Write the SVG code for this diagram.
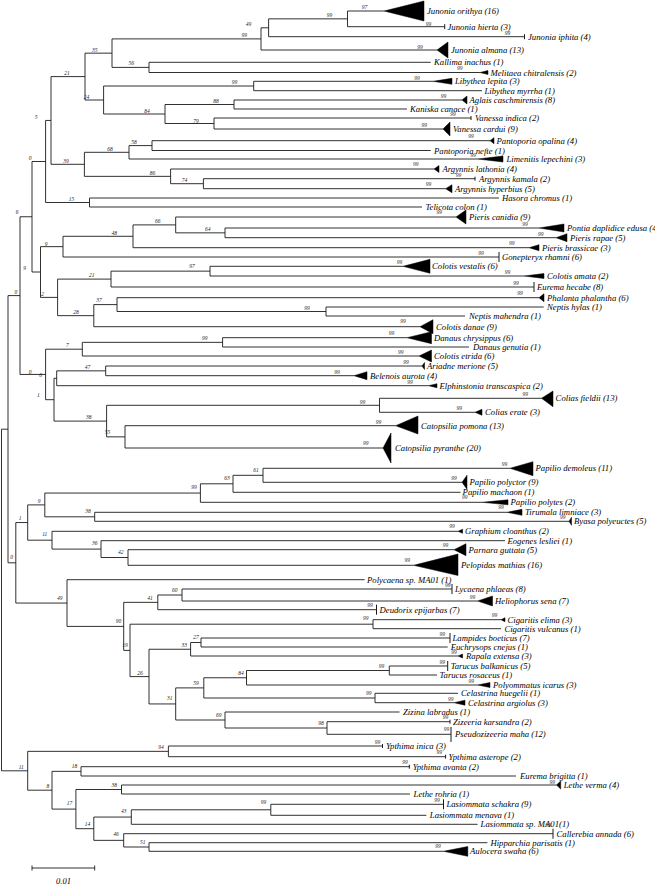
<svg xmlns="http://www.w3.org/2000/svg" width="655" height="887" viewBox="0 0 655 887">
<style>
.e{fill:none;stroke:#1a1a1a;stroke-width:0.9}
.tk{fill:none;stroke:#1a1a1a;stroke-width:1}
.tr{fill:#000;stroke:#000;stroke-width:0.5}
.lb{font-family:"Liberation Serif",serif;font-style:italic;font-size:8.7px;fill:#000}
.bs{font-family:"Liberation Serif",serif;font-style:italic;font-size:5.5px;fill:#222;text-anchor:middle}
.sc{font-family:"Liberation Serif",serif;font-style:italic;font-size:8.5px;fill:#000;text-anchor:middle}
</style>
<rect width="655" height="887" fill="#fff"/>
<g id="connectors" class="e">
<path d="M384 11H347.5V26.7H444.7"/>
<path d="M347.5 18.85H268.6V36.7H524.5"/>
<path d="M268.6 27.8H261V50H437"/>
<path d="M430.7 62.3H149V72.5H480"/>
<path d="M261 38.9H112V67.4H149"/>
<path d="M433 81.3H253.7V90.7H482"/>
<path d="M462 100H234V109H407"/>
<path d="M471 118H214V129H443"/>
<path d="M234 104.5H165V123.5H214"/>
<path d="M253.7 86H103.6V114H165"/>
<path d="M112 53.15H85V100H103.6"/>
<path d="M490 140.7H152V150.5H430.7"/>
<path d="M152 145.6H129V159H477.6"/>
<path d="M475 178.7H203.4V188.7H445.6"/>
<path d="M434 169H170.6V183.7H203.4"/>
<path d="M129 152.3H84.4V176.35H170.6"/>
<path d="M85 76.6H51V164.3H84.4"/>
<path d="M499 198H89.5V207H422"/>
<path d="M51 120.45H45.6V202.5H89.5"/>
<path d="M539 228H225V237.7H556"/>
<path d="M456 217H175.7V232.85H225"/>
<path d="M175.7 224.9H133V247.7H529"/>
<path d="M133 236.3H63V257H499"/>
<path d="M403 266.3H210V276H524"/>
<path d="M210 271.15H111V287H534"/>
<path d="M543.7 307H326V316H465"/>
<path d="M539 297.7H117V311.5H326"/>
<path d="M117 304.6H93.8V326.7H420"/>
<path d="M111 279.1H57.6V315.65H93.8"/>
<path d="M63 246.65H40.5V297.4H57.6"/>
<path d="M45.6 161.5H32V272H40.5"/>
<path d="M407 337.7H222.6V347H469"/>
<path d="M222.6 342.35H82.3V356H419"/>
<path d="M422 366H105.7V375.7H354"/>
<path d="M105.7 370.85H56.7V385.7H428.5"/>
<path d="M541.5 398.3H379.5V412.3H475"/>
<path d="M395.7 425.7H125V448H383"/>
<path d="M379.5 405.3H106.6V436.85H125"/>
<path d="M56.7 378.3H54V421.1H106.6"/>
<path d="M82.3 349.2H45.6V399.7H54"/>
<path d="M32 216.75H20V374.45H45.6"/>
<path d="M510 468.3H263V482.3H462"/>
<path d="M263 475.3H233V492.3H460.5"/>
<path d="M233 483.8H200.4V502.3H482"/>
<path d="M507 512.3H94.7V521.3H569"/>
<path d="M200.4 493.05H44.8V516.8H94.7"/>
<path d="M454 549.7H128V565.3H413.6"/>
<path d="M505 540.7H101V557.5H128"/>
<path d="M458 531.3H52V549.1H101"/>
<path d="M44.8 504.9H27.7V540.2H52"/>
<path d="M452 589H182V601H477.6"/>
<path d="M182 595H157.8V609.7H376.5"/>
<path d="M501 619.7H373V628.7H501"/>
<path d="M450 638H201V647H447.7"/>
<path d="M201 642.5H190.6V656H458"/>
<path d="M447.7 666H389.3V675H437"/>
<path d="M389.3 670.5H246.5V685H477.6"/>
<path d="M458 693.3H375V702.7H454"/>
<path d="M246.5 677.75H203.8V698H375"/>
<path d="M450 721.7H327V734.3H451"/>
<path d="M399.5 712H225V728H327"/>
<path d="M203.8 687.9H175.7V720H225"/>
<path d="M190.6 649.25H149V703.95H175.7"/>
<path d="M373 624.2H130V676.6H149"/>
<path d="M157.8 602.35H123.7V650.4H130"/>
<path d="M364.6 579.7H67V626.4H123.7"/>
<path d="M27.7 522.55H15.8V603.05H67"/>
<path d="M20 295.6H8V562.8H15.8"/>
<path d="M382.5 746H168.4V756.7H445.6"/>
<path d="M409.3 766.7H81V776H516"/>
<path d="M556.5 785H121.5V794H410"/>
<path d="M443.5 804.3H270.8V815.3H426.4"/>
<path d="M270.8 809.8H131.3V824.3H477.6"/>
<path d="M487.4 842.7H149V851.3H443.5"/>
<path d="M553 833.7H123.7V847H149"/>
<path d="M131.3 817.05H93.8V840.35H123.7"/>
<path d="M121.5 789.5H75.9V828.7H93.8"/>
<path d="M81 771.35H52V809.1H75.9"/>
<path d="M168.4 751.35H27.7V790.2H52"/>
<path d="M8 429.2H1.5V770.8H27.7"/>
</g>
<g id="support">
<g id="n-a"><text class="bs" x="329.6" y="17">99</text></g>
<g id="n-b"><text class="bs" x="248.6" y="26.3">49</text></g>
<g id="n-c"><text class="bs" x="244.3" y="37">99</text></g>
<g id="n-d"><text class="bs" x="94.7" y="52">35</text></g>
<g id="n-e"><text class="bs" x="131.3" y="65.3">56</text></g>
<g id="n-21"><text class="bs" x="67" y="75">21</text></g>
<g id="n-24"><text class="bs" x="86.6" y="99">24</text></g>
<g id="n-lib"><text class="bs" x="234.5" y="84.3">99</text></g>
<g id="n-88"><text class="bs" x="216" y="102.7">88</text></g>
<g id="n-84"><text class="bs" x="147" y="113.3">84</text></g>
<g id="n-79"><text class="bs" x="196" y="122.7">79</text></g>
<g id="n-5"><text class="bs" x="36" y="119.3">5</text></g>
<g id="n-58"><text class="bs" x="134" y="143.7">58</text></g>
<g id="n-68"><text class="bs" x="110" y="150.5">68</text></g>
<g id="n-39"><text class="bs" x="66" y="162.7">39</text></g>
<g id="n-86"><text class="bs" x="152.6" y="175">86</text></g>
<g id="n-74"><text class="bs" x="184.6" y="182.3">74</text></g>
<g id="n-0a"><text class="bs" x="30" y="160">0</text></g>
<g id="n-15"><text class="bs" x="71.6" y="200.7">15</text></g>
<g id="n-6"><text class="bs" x="17" y="214">6</text></g>
<g id="n-66"><text class="bs" x="157.8" y="223">66</text></g>
<g id="n-64"><text class="bs" x="207.7" y="230.7">64</text></g>
<g id="n-48"><text class="bs" x="114.3" y="234.7">48</text></g>
<g id="n-9"><text class="bs" x="46" y="245.7">9</text></g>
<g id="n-97"><text class="bs" x="192" y="268.3">97</text></g>
<g id="n-21b"><text class="bs" x="91.7" y="276.7">21</text></g>
<g id="n-9x"><text class="bs" x="24.7" y="270">9</text></g>
<g id="n-t"><text class="bs" x="15.8" y="294">0</text></g>
<g id="n-2"><text class="bs" x="42.6" y="296">2</text></g>
<g id="n-37"><text class="bs" x="99" y="302">37</text></g>
<g id="n-99n"><text class="bs" x="307" y="309.7">99</text></g>
<g id="n-28"><text class="bs" x="76" y="313.7">28</text></g>
<g id="n-99d"><text class="bs" x="204.7" y="339.7">99</text></g>
<g id="n-7"><text class="bs" x="67.4" y="347">7</text></g>
<g id="n-47"><text class="bs" x="87.4" y="369">47</text></g>
<g id="n-0c"><text class="bs" x="30" y="373.7">0</text></g>
<g id="n-6b"><text class="bs" x="40.5" y="377">6</text></g>
<g id="n-1"><text class="bs" x="38.4" y="397">1</text></g>
<g id="n-99f"><text class="bs" x="362.4" y="403.7">99</text></g>
<g id="n-38"><text class="bs" x="88.7" y="419">38</text></g>
<g id="n-55"><text class="bs" x="107.5" y="434">55</text></g>
<g id="n-61"><text class="bs" x="256" y="472">61</text></g>
<g id="n-63"><text class="bs" x="227" y="480.3">63</text></g>
<g id="n-99p"><text class="bs" x="194" y="489.3">99</text></g>
<g id="n-9p"><text class="bs" x="39.2" y="503">9</text></g>
<g id="n-38b"><text class="bs" x="88" y="512.7">38</text></g>
<g id="n-1p"><text class="bs" x="20" y="520">1</text></g>
<g id="n-11p"><text class="bs" x="44.8" y="535.7">11</text></g>
<g id="n-36"><text class="bs" x="94.7" y="545">36</text></g>
<g id="n-42"><text class="bs" x="120.7" y="554">42</text></g>
<g id="n-0d"><text class="bs" x="11.5" y="559">0</text></g>
<g id="n-60"><text class="bs" x="174.8" y="591.5">60</text></g>
<g id="n-49"><text class="bs" x="59.7" y="599.7">49</text></g>
<g id="n-41"><text class="bs" x="150" y="599.7">41</text></g>
<g id="n-99cig"><text class="bs" x="365.8" y="620">99</text></g>
<g id="n-90"><text class="bs" x="118.5" y="623.3">90</text></g>
<g id="n-27"><text class="bs" x="196" y="639">27</text></g>
<g id="n-33"><text class="bs" x="184.2" y="646.7">33</text></g>
<g id="n-19"><text class="bs" x="125" y="646.7">19</text></g>
<g id="n-99t"><text class="bs" x="381.6" y="668">99</text></g>
<g id="n-84b"><text class="bs" x="241" y="674.7">84</text></g>
<g id="n-26"><text class="bs" x="140" y="675">26</text></g>
<g id="n-59"><text class="bs" x="196" y="684.7">59</text></g>
<g id="n-99cel"><text class="bs" x="368.8" y="694.7">99</text></g>
<g id="n-31"><text class="bs" x="169.7" y="700.3">31</text></g>
<g id="n-69"><text class="bs" x="218.7" y="717">69</text></g>
<g id="n-98"><text class="bs" x="321" y="724.7">98</text></g>
<g id="n-94"><text class="bs" x="161" y="748.7">94</text></g>
<g id="n-18"><text class="bs" x="74.6" y="768">18</text></g>
<g id="n-11"><text class="bs" x="21.3" y="768.7">11</text></g>
<g id="n-38c"><text class="bs" x="114.3" y="787">38</text></g>
<g id="n-8"><text class="bs" x="47.8" y="788">8</text></g>
<g id="n-17"><text class="bs" x="69.5" y="805.3">17</text></g>
<g id="n-99las"><text class="bs" x="263.5" y="804.3">99</text></g>
<g id="n-43"><text class="bs" x="123.7" y="813">43</text></g>
<g id="n-14"><text class="bs" x="87.4" y="825.7">14</text></g>
<g id="n-46"><text class="bs" x="116" y="835.7">46</text></g>
<g id="n-51"><text class="bs" x="142.8" y="844">51</text></g>
</g>
<g id="leaves">
<g id="l01"><path class="tr" d="M384 11L424 1V21Z"/><text class="lb" x="427" y="14">Junonia orithya (16)</text><text class="bs" x="364.6" y="9.3">97</text></g>
<g id="l02"><path class="tk" d="M444.7 24.2V29.2"/><text class="lb" x="447.5" y="29.7">Junonia hierta (3)</text><text class="bs" x="428.5" y="26.3">99</text></g>
<g id="l03"><path class="tk" d="M524.5 34.2V39.2"/><text class="lb" x="528" y="39.7">Junonia iphita (4)</text><text class="bs" x="507.4" y="34.7">99</text></g>
<g id="l04"><path class="tr" d="M437 50L448 42V58Z"/><text class="lb" x="451" y="53">Junonia almana (13)</text><text class="bs" x="420" y="49">99</text></g>
<g id="l05"><text class="lb" x="434" y="65.3">Kallima inachus (1)</text></g>
<g id="l06"><path class="tr" d="M480 72.5L488 70.5V74.5Z"/><text class="lb" x="490.5" y="75.5">Melitaea chitralensis (2)</text><text class="bs" x="459.7" y="70">99</text></g>
<g id="l07"><path class="tr" d="M433 81.3L452 78.3V84.3Z"/><text class="lb" x="455" y="84.3">Libythea lepita (3)</text><text class="bs" x="417" y="79.5">99</text></g>
<g id="l08"><text class="lb" x="484.5" y="93.7">Libythea myrrha (1)</text></g>
<g id="l09"><path class="tr" d="M462 100L467 96V104Z"/><text class="lb" x="469.5" y="103">Aglais caschmirensis (8)</text><text class="bs" x="443.5" y="97.5">99</text></g>
<g id="l10"><text class="lb" x="410" y="112">Kaniska canace (1)</text></g>
<g id="l11"><path class="tk" d="M471 116V120"/><text class="lb" x="475" y="121">Vanessa indica (2)</text><text class="bs" x="453" y="116">99</text></g>
<g id="l12"><path class="tr" d="M443 129L450 122V136Z"/><text class="lb" x="453" y="132">Vanessa cardui (9)</text><text class="bs" x="424.3" y="127">99</text></g>
<g id="l13"><path class="tr" d="M490 140.7L494 137.7V143.7Z"/><text class="lb" x="496.5" y="143.7">Pantoporia opalina (4)</text><text class="bs" x="471" y="138">99</text></g>
<g id="l14"><text class="lb" x="434" y="153.5">Pantoporia nefte (1)</text></g>
<g id="l15"><path class="tr" d="M477.6 159L503 156V162Z"/><text class="lb" x="506.5" y="162">Limenitis lepechini (3)</text><text class="bs" x="473.3" y="156.5">99</text></g>
<g id="l16"><path class="tr" d="M434 169L439 165.5V172.5Z"/><text class="lb" x="442.5" y="172">Argynnis lathonia (4)</text><text class="bs" x="415.7" y="166">99</text></g>
<g id="l17"><path class="tk" d="M475 176.7V180.7"/><text class="lb" x="479" y="181.7">Argynnis kamala (2)</text><text class="bs" x="458.4" y="176.5">99</text></g>
<g id="l18"><path class="tr" d="M445.6 188.7L452 184.7V192.7Z"/><text class="lb" x="455" y="191.7">Argynnis hyperbius (5)</text><text class="bs" x="428.5" y="186">99</text></g>
<g id="l19"><text class="lb" x="502" y="201">Hasora chromus (1)</text></g>
<g id="l20"><text class="lb" x="425.5" y="210">Telicota colon (1)</text></g>
<g id="l21"><path class="tr" d="M456 217L466 210V224Z"/><text class="lb" x="469" y="220">Pieris canidia (9)</text><text class="bs" x="439.2" y="214">99</text></g>
<g id="l22"><path class="tr" d="M539 228L564 224V232Z"/><text class="lb" x="567" y="231">Pontia daplidice edusa (4)</text><text class="bs" x="525" y="225.5">99</text></g>
<g id="l23"><path class="tr" d="M556 237.7L567 233.7V241.7Z"/><text class="lb" x="570" y="240.7">Pieris rapae (5)</text><text class="bs" x="540.7" y="235.5">99</text></g>
<g id="l24"><path class="tr" d="M529 247.7L539 244.7V250.7Z"/><text class="lb" x="542" y="250.7">Pieris brassicae (3)</text><text class="bs" x="511.7" y="245">99</text></g>
<g id="l25"><path class="tk" d="M499 252V262"/><text class="lb" x="502" y="260">Gonepteryx rhamni (6)</text><text class="bs" x="481" y="254.5">99</text></g>
<g id="l26"><path class="tr" d="M403 266.3L430 259.3V273.3Z"/><text class="lb" x="432" y="269.3">Colotis vestalis (6)</text><text class="bs" x="399.5" y="264">99</text></g>
<g id="l27"><path class="tr" d="M524 276L544 273.5V278.5Z"/><text class="lb" x="547" y="279">Colotis amata (2)</text><text class="bs" x="507.4" y="274">99</text></g>
<g id="l28"><path class="tk" d="M534 282V292"/><text class="lb" x="537" y="290">Eurema hecabe (8)</text><text class="bs" x="516" y="284.5">99</text></g>
<g id="l29"><path class="tr" d="M539 297.7L544 293.7V301.7Z"/><text class="lb" x="547" y="300.7">Phalanta phalantha (6)</text><text class="bs" x="520" y="295">99</text></g>
<g id="l30"><text class="lb" x="547" y="310">Neptis hylas (1)</text></g>
<g id="l31"><text class="lb" x="469" y="319">Neptis mahendra (1)</text></g>
<g id="l32"><path class="tr" d="M420 326.7L433 319.7V333.7Z"/><text class="lb" x="436" y="329.7">Colotis danae (9)</text><text class="bs" x="403" y="322.5">99</text></g>
<g id="l33"><path class="tr" d="M407 337.7L431.5 331.7V343.7Z"/><text class="lb" x="434" y="340.7">Danaus chrysippus (6)</text><text class="bs" x="391.4" y="334.5">99</text></g>
<g id="l34"><text class="lb" x="473" y="350">Danaus genutia (1)</text></g>
<g id="l35"><path class="tr" d="M419 356L431.5 350V362Z"/><text class="lb" x="434" y="359">Colotis etrida (6)</text><text class="bs" x="400.8" y="353.5">99</text></g>
<g id="l36"><path class="tr" d="M422 366L424.5 362.5V369.5Z"/><text class="lb" x="427" y="369">Ariadne merione (5)</text><text class="bs" x="406" y="363.5">99</text></g>
<g id="l37"><path class="tr" d="M354 375.7L367 371.7V379.7Z"/><text class="lb" x="370" y="378.7">Belenois aurota (4)</text><text class="bs" x="336.9" y="373.5">99</text></g>
<g id="l38"><path class="tr" d="M428.5 385.7L437 383.7V387.7Z"/><text class="lb" x="439.5" y="388.7">Elphinstonia transcaspica (2)</text><text class="bs" x="410" y="383.5">99</text></g>
<g id="l39"><path class="tr" d="M541.5 398.3L553 391V406.7Z"/><text class="lb" x="555.6" y="401.3">Colias fieldii (13)</text><text class="bs" x="525.3" y="396">99</text></g>
<g id="l40"><path class="tr" d="M475 412.3L482 409.3V415.3Z"/><text class="lb" x="485" y="415.3">Colias erate (3)</text><text class="bs" x="459.2" y="410">99</text></g>
<g id="l41"><path class="tr" d="M395.7 425.7L418 416V434Z"/><text class="lb" x="421" y="428.7">Catopsilia pomona (13)</text><text class="bs" x="378.6" y="423.5">99</text></g>
<g id="l42"><path class="tr" d="M383 448L391 433V463Z"/><text class="lb" x="395" y="451">Catopsilia pyranthe (20)</text><text class="bs" x="365.8" y="444.5">99</text></g>
<g id="l43"><path class="tr" d="M510 468.3L533 461.7V475.7Z"/><text class="lb" x="535.5" y="471.3">Papilio demoleus (11)</text><text class="bs" x="504.4" y="465.5">99</text></g>
<g id="l44"><path class="tr" d="M462 482.3L467 475.3V489.3Z"/><text class="lb" x="469.5" y="485.3">Papilio polyctor (9)</text><text class="bs" x="454" y="479.5">99</text></g>
<g id="l45"><text class="lb" x="462.6" y="495.3">Papilio machaon (1)</text></g>
<g id="l46"><path class="tr" d="M482 502.3L508 499.8V504.8Z"/><text class="lb" x="510.5" y="505.3">Papilio polytes (2)</text><text class="bs" x="464.8" y="498.5">99</text></g>
<g id="l47"><path class="tr" d="M507 512.3L522 509.3V515.3Z"/><text class="lb" x="525" y="515.3">Tirumala limniace (3)</text><text class="bs" x="501" y="508.5">99</text></g>
<g id="l48"><path class="tr" d="M569 521.3L571.5 517.3V525.3Z"/><text class="lb" x="574" y="524.3">Byasa polyeuctes (5)</text><text class="bs" x="562.8" y="518.5">99</text></g>
<g id="l49"><path class="tr" d="M458 531.3L462.6 529.3V533.3Z"/><text class="lb" x="465" y="534.3">Graphium cloanthus (2)</text><text class="bs" x="452" y="528">99</text></g>
<g id="l50"><text class="lb" x="507.4" y="543.7">Eogenes lesliei (1)</text></g>
<g id="l51"><path class="tr" d="M454 549.7L466 543.7V555.7Z"/><text class="lb" x="468.5" y="552.7">Parnara guttata (5)</text><text class="bs" x="445.6" y="546.5">99</text></g>
<g id="l52"><path class="tr" d="M413.6 565.3L458 554V575.5Z"/><text class="lb" x="461" y="568.3">Pelopidas mathias (16)</text><text class="bs" x="407.2" y="561.5">99</text></g>
<g id="l53"><text class="lb" x="367" y="582.7">Polycaena sp. MA01 (1)</text></g>
<g id="l54"><path class="tk" d="M452 584V594"/><text class="lb" x="455" y="592">Lycaena phlaeas (8)</text><text class="bs" x="447.7" y="587">99</text></g>
<g id="l55"><path class="tr" d="M477.6 601L492.5 596V606Z"/><text class="lb" x="495" y="604">Heliophorus sena (7)</text><text class="bs" x="472.5" y="598.5">99</text></g>
<g id="l56"><path class="tk" d="M376.5 604.7V614.7"/><text class="lb" x="379.5" y="612.7">Deudorix epijarbas (7)</text><text class="bs" x="370" y="606.5">99</text></g>
<g id="l57"><path class="tr" d="M501 619.7L505 617.7V621.7Z"/><text class="lb" x="507.5" y="622.7">Cigaritis elima (3)</text><text class="bs" x="494.6" y="616.5">99</text></g>
<g id="l58"><text class="lb" x="504.4" y="631.7">Cigaritis vulcanus (1)</text></g>
<g id="l59"><path class="tk" d="M450 633V643"/><text class="lb" x="452.5" y="641">Lampides boeticus (7)</text><text class="bs" x="442.2" y="635.5">99</text></g>
<g id="l60"><text class="lb" x="450.7" y="650">Euchrysops cnejus (1)</text></g>
<g id="l61"><path class="tr" d="M458 656L462.6 654V658Z"/><text class="lb" x="466" y="659">Rapala extensa (3)</text><text class="bs" x="454" y="654">99</text></g>
<g id="l62"><path class="tk" d="M447.7 661V671"/><text class="lb" x="450.7" y="669">Tarucus balkanicus (5)</text><text class="bs" x="442.2" y="663.5">99</text></g>
<g id="l63"><text class="lb" x="439.5" y="678">Tarucus rosaceus (1)</text></g>
<g id="l64"><path class="tr" d="M477.6 685L490 682.5V687.5Z"/><text class="lb" x="493" y="688">Polyommatus icarus (3)</text><text class="bs" x="471.2" y="683">99</text></g>
<g id="l65"><text class="lb" x="461" y="696.3">Celastrina huegelii (1)</text></g>
<g id="l66"><path class="tr" d="M454 702.7L465 700.2V705.2Z"/><text class="lb" x="468" y="705.7">Celastrina argiolus (3)</text><text class="bs" x="450.7" y="700.5">99</text></g>
<g id="l67"><text class="lb" x="403" y="715">Zizina labradus (1)</text></g>
<g id="l68"><path class="tk" d="M450 719.7V723.7"/><text class="lb" x="453" y="724.7">Zizeeria karsandra (2)</text><text class="bs" x="445.6" y="719">99</text></g>
<g id="l69"><path class="tk" d="M451 727V742"/><text class="lb" x="455" y="737.3">Pseudozizeeria maha (12)</text><text class="bs" x="446.4" y="731">99</text></g>
<g id="l70"><path class="tk" d="M382.5 744V748"/><text class="lb" x="386" y="749">Ypthima inica (3)</text><text class="bs" x="377.4" y="743.5">99</text></g>
<g id="l71"><path class="tk" d="M445.6 754.7V758.7"/><text class="lb" x="448.6" y="759.7">Ypthima asterope (2)</text><text class="bs" x="439.2" y="753.5">99</text></g>
<g id="l72"><path class="tk" d="M409.3 764.7V768.7"/><text class="lb" x="412.7" y="769.7">Ypthima avanta (2)</text><text class="bs" x="405" y="763.5">99</text></g>
<g id="l73"><text class="lb" x="520" y="779">Eurema brigitta (1)</text></g>
<g id="l74"><path class="tr" d="M556.5 785L560.7 781V789Z"/><text class="lb" x="563.7" y="788">Lethe verma (4)</text><text class="bs" x="552.2" y="783.5">99</text></g>
<g id="l75"><text class="lb" x="413.6" y="797">Lethe rohria (1)</text></g>
<g id="l76"><path class="tk" d="M443.5 799.3V809.3"/><text class="lb" x="446.4" y="807.3">Lasiommata schakra (9)</text><text class="bs" x="437" y="801.5">99</text></g>
<g id="l77"><text class="lb" x="429.8" y="818.3">Lasiommata menava (1)</text></g>
<g id="l78"><text class="lb" x="480.6" y="827.3">Lasiommata sp. MA01(1)</text></g>
<g id="l79"><path class="tk" d="M553 828.7V838.7"/><text class="lb" x="556.5" y="836.7">Callerebia annada (6)</text><text class="bs" x="548" y="827">99</text></g>
<g id="l80"><text class="lb" x="490.4" y="845.7">Hipparchia parisatis (1)</text></g>
<g id="l81"><path class="tr" d="M443.5 851.3L467.8 846.5V856.3Z"/><text class="lb" x="470" y="854.3">Aulocera swaha (6)</text><text class="bs" x="438" y="848">99</text></g>
</g>
<g id="scale-bar">
<path class="e" d="M32 868H94.7M32 865.5V870.5M94.7 865.5V870.5"/>
<text class="sc" x="63.5" y="884">0.01</text>
</g>
</svg>
